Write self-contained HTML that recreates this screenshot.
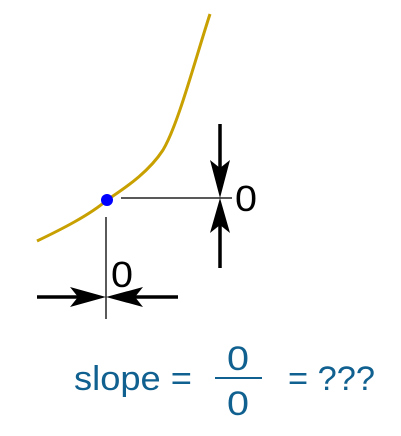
<!DOCTYPE html>
<html><head><meta charset="utf-8"><style>body{margin:0;background:#fff}svg{display:block}</style></head><body>
<svg width="401" height="436" viewBox="0 0 401 436" xmlns="http://www.w3.org/2000/svg">
<path d="M37,241 C60,230 90,215 107,200 C130,185 150,170 163,150 C178,125 195,60 210,14" fill="none" stroke="#c8a000" stroke-width="3"/>
<line x1="121" y1="198" x2="232" y2="198" stroke="#222" stroke-width="1.5"/>
<line x1="106" y1="217" x2="106" y2="319" stroke="#222" stroke-width="1.5"/>
<circle cx="107" cy="200" r="6" fill="#0000ff"/>
<g fill="#000" stroke="#000">
<line x1="220" y1="124" x2="220" y2="175" stroke-width="3.5"/>
<line x1="220" y1="220" x2="220" y2="268" stroke-width="3.5"/>
<polygon points="210,160 220,168 230,160 220,198" stroke="none"/>
<polygon points="210,233 220,225 230,233 220,198" stroke="none"/>
</g>
<g fill="#000" stroke="#000">
<line x1="37" y1="297" x2="85" y2="297" stroke-width="3.5"/>
<line x1="125" y1="297" x2="178" y2="297" stroke-width="3.5"/>
<polygon points="70,287 78,297 70,307 106,297" stroke="none"/>
<polygon points="143,287 135,297 143,307 106,297" stroke="none"/>
</g>
<text x="235" y="211" font-family="Liberation Sans, sans-serif" font-size="36" fill="#000" textLength="22" lengthAdjust="spacingAndGlyphs">0</text>
<text x="111" y="287" font-family="Liberation Sans, sans-serif" font-size="36" fill="#000" textLength="22" lengthAdjust="spacingAndGlyphs">0</text>
<g font-family="Liberation Sans, sans-serif" font-size="34" fill="#106090">
<text x="74" y="390" textLength="118" lengthAdjust="spacingAndGlyphs">slope =</text>
<text x="227" y="370" textLength="22" lengthAdjust="spacingAndGlyphs">0</text>
<line x1="215" y1="378" x2="262" y2="378" stroke="#106090" stroke-width="2"/>
<text x="227" y="415" textLength="22" lengthAdjust="spacingAndGlyphs">0</text>
<text x="288" y="390" textLength="87" lengthAdjust="spacingAndGlyphs">= ???</text>
</g>
</svg>
</body></html>
